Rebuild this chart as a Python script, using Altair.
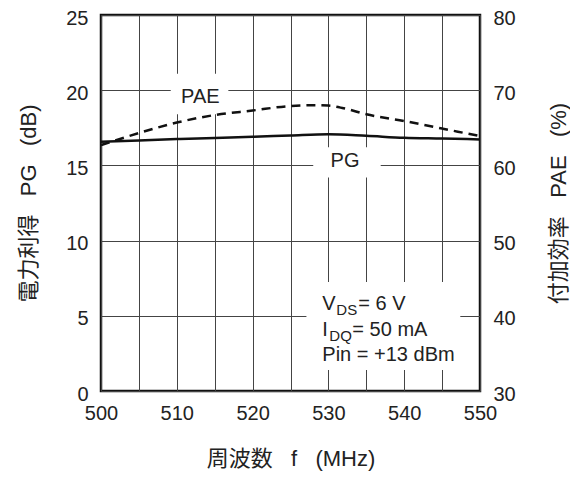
import altair as alt
import pandas as pd

# ---- data ----
freq_pg = [500, 505, 510, 515, 520, 525, 530, 535, 540, 545, 550]
pg_db = [16.58, 16.66, 16.75, 16.83, 16.90, 16.99, 17.07, 16.97, 16.84, 16.79, 16.73]

freq_pae = [500, 505, 510, 515, 520, 525, 528, 530, 532, 535, 540, 545, 550]
pae_pct = [62.7, 64.3, 65.7, 66.7, 67.3, 67.9, 68.0, 67.95, 67.6, 66.8, 65.9, 64.9, 63.9]

x_ticks = [500, 505, 510, 515, 520, 525, 530, 535, 540, 545, 550]
y_left_ticks = [0, 5, 10, 15, 20, 25]
y_right_ticks = [30, 40, 50, 60, 70, 80]

# label boxes (white backgrounds that break the grid), in data units
box_f1 = [509.2, 528.0, 527.1]
box_f2 = [516.8, 536.9, 547.4]
box_y1 = [18.4, 14.2, 1.4]
box_y2 = [21.1, 16.2, 7.25]

curve_labels = ["PAE", "PG"]
curve_label_f = [513.1, 532.2]
curve_label_y = [19.15, 14.87]

NB = "\u00a0"
FONT = "Liberation Sans, Arial, Noto Sans CJK JP"
CJK = "Liberation Sans, Noto Sans CJK JP"

pg_df = pd.DataFrame({"f": freq_pg, "v": pg_db})
pae_df = pd.DataFrame({"f": freq_pae, "v": pae_pct})
box_df = pd.DataFrame({"f1": box_f1, "f2": box_f2, "y1": box_y1, "y2": box_y2})
lab_df = pd.DataFrame({"t": curve_labels, "f": curve_label_f, "v": curve_label_y})
ann_df = pd.DataFrame({"f": [529.2], "v": [5.4]})

xscale = alt.Scale(domain=[500, 550], nice=False, zero=False)
yl_scale = alt.Scale(domain=[0, 25], nice=False)
yr_scale = alt.Scale(domain=[30, 80], nice=False)

x_axis = alt.Axis(
    values=x_ticks,
    labelExpr="datum.value % 10 == 0 ? datum.label : ''",
    title="周波数" + NB * 3 + "f" + NB * 3 + "(MHz)",
    grid=True,
    gridColor="#444444",
    gridWidth=1,
    ticks=False,
    domain=False,
    labelFlush=False,
    labelOverlap=False,
    labelPadding=12,
    labelFontSize=20,
    labelFont=FONT,
    labelColor="#222222",
    titleFont=CJK,
    titleFontSize=22,
    titleFontWeight="normal",
    titleColor="#222222",
    titlePadding=25,
)

yl_axis = alt.Axis(
    values=y_left_ticks,
    title="電力利得" + NB * 3 + "PG" + NB * 3 + "(dB)",
    grid=True,
    gridColor="#444444",
    gridWidth=1,
    ticks=False,
    domain=False,
    labelFlush=False,
    labelOverlap=False,
    labelOffset=3,
    labelPadding=13,
    labelFontSize=20,
    labelFont=FONT,
    labelColor="#222222",
    titleFont=CJK,
    titleFontSize=22,
    titleFontWeight="normal",
    titleColor="#222222",
    titlePadding=25,
)

yr_axis = alt.Axis(
    values=y_right_ticks,
    orient="right",
    title="付加効率" + NB * 3 + "PAE" + NB * 3 + "(%)",
    grid=False,
    ticks=False,
    domain=False,
    labelFlush=False,
    labelOverlap=False,
    labelOffset=3,
    labelPadding=13,
    labelFontSize=20,
    labelFont=FONT,
    labelColor="#222222",
    titleFont=CJK,
    titleFontSize=22,
    titleFontWeight="normal",
    titleColor="#222222",
    titleAngle=-90,
    titlePadding=55,
)

X = lambda field: alt.X(field, scale=xscale, axis=x_axis)
YL = lambda field: alt.Y(field, scale=yl_scale, axis=yl_axis)

boxes = alt.Chart(box_df).mark_rect(color="white").encode(
    x=X("f1:Q"), x2="f2:Q", y=YL("y1:Q"), y2="y2:Q",
)

pg_line = alt.Chart(pg_df).mark_line(
    color="#111111", strokeWidth=2.5, interpolate="monotone"
).encode(x=X("f:Q"), y=YL("v:Q"))

labels = alt.Chart(lab_df).mark_text(
    font=FONT, fontSize=20, color="#222222", align="center", baseline="alphabetic"
).encode(x=X("f:Q"), y=YL("v:Q"), text="t:N")


def ann(text, dx, dy, size=20):
    return alt.Chart(ann_df).mark_text(
        text=text, font=FONT, fontSize=size, color="#222222",
        align="left", baseline="alphabetic", dx=dx, dy=dy,
    ).encode(x=X("f:Q"), y=YL("v:Q"))


ann_layers = [
    ann("V", 0, 0),
    ann("DS", 14, 5, 15),
    ann(NB + "=" + NB + "6" + NB + "V", 36, 0),
    ann("I", 0, 26),
    ann("DQ", 7, 31, 15),
    ann(NB + "=" + NB + "50" + NB + "mA", 30, 26),
    ann("Pin" + NB + "=" + NB + "+13" + NB + "dBm", 0, 51),
]

left = alt.layer(boxes, pg_line, labels, *ann_layers)

pae_line = alt.Chart(pae_df).mark_line(
    color="#111111", strokeWidth=2.5, strokeDash=[9, 6], interpolate="monotone"
).encode(
    x=X("f:Q"),
    y=alt.Y("v:Q", scale=yr_scale, axis=yr_axis),
)

chart = alt.layer(left, pae_line).resolve_scale(y="independent").properties(
    width=379,
    height=376,
    autosize=alt.AutoSizeParams(type="none"),
    padding={"left": 93, "top": 7, "right": 90, "bottom": 80},
    background="white",
).configure_view(stroke="#111111", strokeWidth=2.5)

chart.save("out.html", embed_options={"renderer": "svg", "actions": False})
